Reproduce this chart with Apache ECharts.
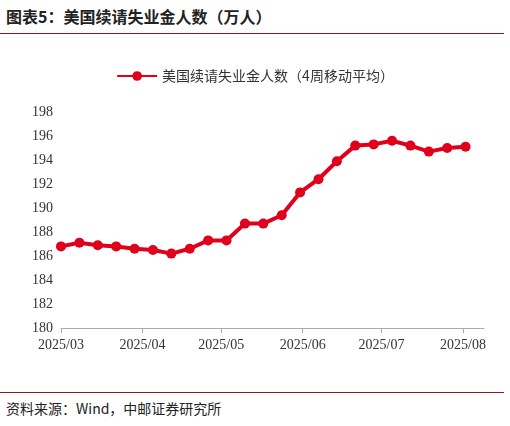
<!DOCTYPE html>
<html><head><meta charset="utf-8">
<script src="https://cdn.jsdelivr.net/npm/echarts@6/dist/echarts.min.js"></script>
<style>
body{margin:0;background:#fff;font-family:"Noto Sans CJK SC",sans-serif}
#title{position:absolute;left:6px;top:4px;font-size:16px;font-weight:bold;color:#222}
#tline{position:absolute;left:0;top:33px;width:504px;border-top:1.5px solid #8b1a1a}
#bline{position:absolute;left:0;top:392px;width:504px;border-top:1px solid #8b1a1a}
#src{position:absolute;left:6px;top:398px;font-size:14px;color:#222}
#chart{position:absolute;left:0;top:40px;width:510px;height:350px}
</style></head><body>
<div id="title">图表5：美国续请失业金人数（万人）</div>
<div id="tline"></div>
<div id="chart"></div>
<div id="bline"></div>
<div id="src">资料来源：Wind，中邮证券研究所</div>
<script>
const dates = ['2025-03-01','2025-03-08','2025-03-15','2025-03-22','2025-03-29','2025-04-05','2025-04-12','2025-04-19','2025-04-26','2025-05-03','2025-05-10','2025-05-17','2025-05-24','2025-05-31','2025-06-07','2025-06-14','2025-06-21','2025-06-28','2025-07-05','2025-07-12','2025-07-19','2025-07-26','2025-08-02']
const values = [186.8,187.1,186.9,186.8,186.6,186.5,186.2,186.6,187.3,187.3,188.7,188.7,189.4,191.3,192.4,193.9,195.2,195.3,195.6,195.2,194.7,195.0,195.1]
const seriesName = '美国续请失业金人数（4周移动平均）'

const chart = echarts.init(document.getElementById('chart'))
chart.setOption({
  animation: false,
  legend: { top: 24, left: 'center', itemWidth: 40, itemHeight: 12,
    textStyle: { fontSize: 14, color: '#333', fontFamily: 'Noto Sans CJK SC' } },
  grid: { left: 61, right: 26, top: 72, bottom: 62 },
  xAxis: { type: 'time', min: '2025-03-01', max: '2025-08-09',
    axisLine: { lineStyle: { color: '#aaa' } },
    axisTick: { show: true, lineStyle: { color: '#aaa' } },
    splitLine: { show: false },
    axisLabel: { formatter: '{yyyy}/{MM}', fontSize: 14, color: '#333', fontFamily: 'Liberation Serif', showMinLabel: true, showMaxLabel: false, margin: 10 } },
  yAxis: { type: 'value', min: 180, max: 198, interval: 2,
    axisLine: { show: false }, axisTick: { show: false }, splitLine: { show: false },
    axisLabel: { fontSize: 14, color: '#333', fontFamily: 'Liberation Serif' } },
  series: [{ name: seriesName, type: 'line', data: dates.map((d, i) => [d, values[i]]),
    color: '#e0001b', lineStyle: { width: 4 }, symbol: 'circle', symbolSize: 10 }]
})
</script></body></html>
